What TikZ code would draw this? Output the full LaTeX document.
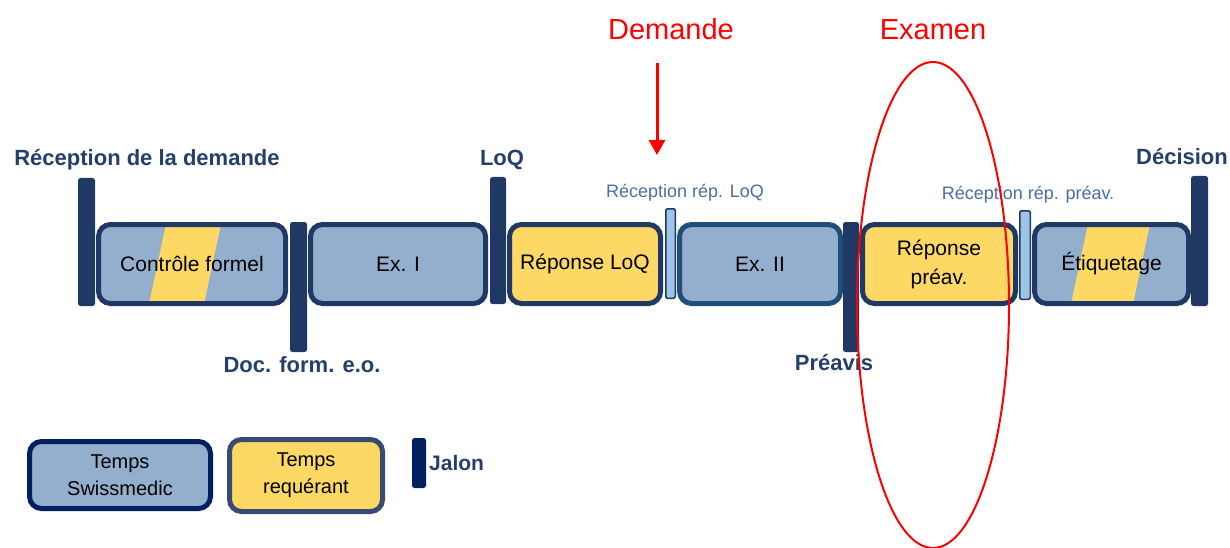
\documentclass[tikz,border=0pt]{standalone}
\usepackage{fontspec}
\setmainfont{Liberation Sans}
\usetikzlibrary{arrows.meta,calc}
\definecolor{navy}{HTML}{203864}
\definecolor{navyB}{HTML}{1F4E79}
\definecolor{navyL}{HTML}{002060}
\definecolor{lblue}{HTML}{94AFCD}
\definecolor{yel}{HTML}{FDD865}
\definecolor{pale}{HTML}{9DC3E6}
\definecolor{rtxt}{HTML}{4A6DA7}
\definecolor{mtxt}{HTML}{243F6B}
\tikzset{
  phase/.style={draw=navy, line width=5pt, rounded corners=12pt, inner sep=0pt,
    minimum height=79pt, align=center, font=\fontsize{21}{29}\selectfont, text=black},
  smtime/.style={phase, fill=lblue},
  reqtime/.style={phase, fill=yel},
  jalon/.style={fill=navy, rounded corners=2.5pt, inner sep=0pt, minimum width=17pt},
  subjalon/.style={fill=pale, draw=navy, line width=1.5pt, rounded corners=1.5pt,
    inner sep=0pt},
  mlabel/.style={font=\bfseries\fontsize{22}{26}\selectfont, text=mtxt, inner sep=0pt},
  rlabel/.style={font=\fontsize{18}{22}\selectfont, text=rtxt, inner sep=0pt},
  redlabel/.style={font=\fontsize{29}{34}\selectfont, text=red, inner sep=0pt},
}
\begin{document}
\begin{tikzpicture}[x=1pt,y=-1pt]
\useasboundingbox (0,0) rectangle (1230,548);

% phases of the procedure
\node[smtime, minimum width=187pt,
  path picture={\fill[yel, sharp corners]
     ($(path picture bounding box.center)+(-26,-40)$) -- ++(55,0)
     -- ($(path picture bounding box.center)+(12,40)$) -- ++(-55,0) -- cycle;}]
  (cf) at (192,264) {};
\node[font=\fontsize{21}{29}\selectfont] (cft) at (cf.center) {Contrôle formel};
\node[smtime, minimum width=175pt] (ex1) at (398,264) {Ex. I};
\node[reqtime, minimum width=151pt] (rl) at (585,264) {Réponse LoQ};
\node[smtime, draw=navyB, minimum width=161pt] (ex2) at (760,264) {Ex. II};
\node[reqtime, minimum width=153pt] (rp) at (939,264) {Réponse\\préav.};
\node[smtime, minimum width=154pt,
  path picture={\fill[yel, sharp corners]
     ($(path picture bounding box.center)+(-23.5,-40)$) -- ++(62,0)
     -- ($(path picture bounding box.center)+(21.5,40)$) -- ++(-62,0) -- cycle;}]
  (et) at (1111.5,264) {};
\node[font=\fontsize{21}{29}\selectfont] (ett) at (et.center) {Étiquetage};

% milestones
\node[jalon, minimum height=128pt] (j1) at (86.5,242) {};
\node[jalon, minimum height=130pt] (j2) at (298.5,287) {};
\node[jalon, minimum width=16pt, minimum height=127pt] (j3) at (498,240.5) {};
\node[subjalon, minimum width=9.5pt, minimum height=89.5pt] (j4) at (670.5,253.5) {};
\node[jalon, minimum width=16pt, minimum height=130pt] (j5) at (851,287) {};
\node[subjalon, minimum width=10.5pt, minimum height=88.5pt] (j6) at (1025,255) {};
\node[jalon, minimum height=130pt] (j7) at (1199.5,241) {};

% milestone labels
\node[mlabel] (l1) at (147,160) {Réception de la demande};
\node[mlabel] (l2) at (302,365) {Doc. form. e.o.};
\node[mlabel] (l3) at (502,160) {LoQ};
\node[rlabel] (l4) at (685,193) {Réception rép. LoQ};
\node[mlabel] (l5) at (834,363) {Préavis};
\node[rlabel] (l6) at (1028,195) {Réception rép. préav.};
\node[mlabel] (l7) at (1182,157) {Décision};

% legend
\node[smtime, draw=navyL, minimum width=181pt, minimum height=67pt,
  font=\fontsize{20}{27}\selectfont] (ls) at (120,475) {Temps\\Swissmedic};
\node[reqtime, draw=navy!90!white, minimum width=153pt, minimum height=72pt,
  font=\fontsize{20}{27}\selectfont] (lr) at (306,475.5) {Temps\\requérant};
\node[jalon, fill=navyL, minimum width=14pt, minimum height=50pt] (lj) at (419,463) {};
\node[mlabel, anchor=west, font=\bfseries\fontsize{21}{25}\selectfont] (ljt)
  at (429,463) {Jalon};

% annotations
\node[redlabel] (dem) at (671,29) {Demande};
\coordinate (dtop) at (657,63);
\coordinate (dtip) at (657,155);
\draw[red, line width=3pt, -{Triangle[width=16pt,length=15pt]}] (dtop) -- (dtip);
\node[redlabel] (exa) at (933,30) {Examen};
\draw[red, line width=2pt] (933,305) ellipse [x radius=76, y radius=243];
\end{tikzpicture}
\end{document}
